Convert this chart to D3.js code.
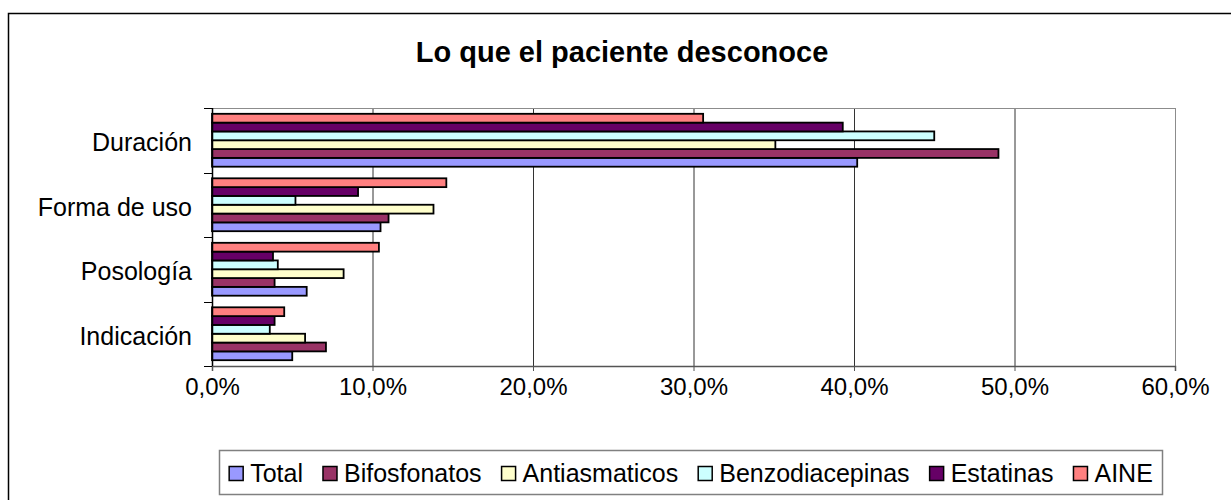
<!DOCTYPE html>
<html>
<head>
<meta charset="utf-8">
<script src="https://cdn.jsdelivr.net/npm/d3@7"></script>
<style>
  body { margin: 0; background: #fff; }
  svg { display: block; font-family: Arial, "Liberation Sans", sans-serif; }
</style>
</head>
<body>
<svg id="chart" width="1231" height="500"></svg>
<script>
// categories, top to bottom as drawn
const categories = ["Duración", "Forma de uso", "Posología", "Indicación"];
// series in legend order
const seriesNames = ["Total", "Bifosfonatos", "Antiasmaticos", "Benzodiacepinas", "Estatinas", "AINE"];
const seriesColors = ["#9999FF", "#993366", "#FFFFCC", "#CCFFFF", "#660066", "#FF8080"];
// percentages, one array per series, same order as categories
const total = [40.2, 10.5, 5.9, 5.0];
const bifosfonatos = [49.0, 11.0, 3.9, 7.1];
const antiasmaticos = [35.1, 13.8, 8.2, 5.8];
const benzodiacepinas = [45.0, 5.2, 4.1, 3.6];
const estatinas = [39.3, 9.1, 3.8, 3.9];
const aine = [30.6, 14.6, 10.4, 4.5];
const xTicks = [0, 10, 20, 30, 40, 50, 60];

const seriesValues = [total, bifosfonatos, antiasmaticos, benzodiacepinas, estatinas, aine];

const plot = { left: 212, right: 1175, top: 108, bottom: 366 };

const svg = d3.select("#chart");

// outer chart frame (only top/left visible in the picture)
svg.append("rect")
    .attr("x", 8.5).attr("y", 13.5)
    .attr("width", 1260).attr("height", 520)
    .attr("fill", "#fff")
    .attr("stroke", "#000")
    .attr("stroke-width", 1.5);

svg.append("text")
    .attr("x", 622).attr("y", 62)
    .attr("text-anchor", "middle")
    .style("font-size", "29px")
    .style("font-weight", "bold")
    .text("Lo que el paciente desconoce");

const x = d3.scaleLinear().domain([0, 60]).range([plot.left, plot.right]);

const y = d3.scaleBand()
    .domain(categories)
    .range([plot.top, plot.bottom])
    .paddingInner(0.18)
    .paddingOuter(0.09);

// AINE drawn on top of each group, Total at the bottom
const ySeries = d3.scaleBand()
    .domain(seriesNames.slice().reverse())
    .range([0, y.bandwidth()]);

// gridlines
svg.append("g")
    .selectAll("line")
    .data(xTicks.slice(1))
    .join("line")
    .attr("x1", d => x(d) + 0.5).attr("x2", d => x(d) + 0.5)
    .attr("y1", plot.top).attr("y2", plot.bottom)
    .attr("stroke", d => d === 60 ? "#8c8c8c" : "#333")
    .attr("stroke-width", 1);

// top border of plot area
svg.append("line")
    .attr("x1", plot.left).attr("x2", plot.right)
    .attr("y1", plot.top + 0.5).attr("y2", plot.top + 0.5)
    .attr("stroke", "#8c8c8c");

// bars
const rows = [];
seriesNames.forEach((s, i) => {
    categories.forEach((c, j) => {
        rows.push({ series: s, cat: c, value: seriesValues[i][j], color: seriesColors[i] });
    });
});

svg.append("g")
    .selectAll("rect")
    .data(rows)
    .join("rect")
    .attr("x", x(0))
    .attr("y", d => y(d.cat) + ySeries(d.series))
    .attr("width", d => x(d.value) - x(0))
    .attr("height", ySeries.bandwidth())
    .attr("fill", d => d.color)
    .attr("stroke", "#000")
    .attr("stroke-width", 1.8);

// value axis
const xAxis = svg.append("g")
    .attr("transform", `translate(0,${plot.bottom})`)
    .call(d3.axisBottom(x).tickValues(xTicks).tickSize(5).tickPadding(7)
        .tickFormat(d => d3.format(".1f")(d).replace(".", ",") + "%"));
xAxis.select(".domain").attr("stroke", "#555").attr("stroke-width", 1.5);
xAxis.selectAll(".tick line").attr("stroke", "#555");
xAxis.selectAll("text")
    .style("font-size", "24px")
    .style("font-family", "Arial, 'Liberation Sans', sans-serif")
    .attr("fill", "#000");

// category axis (ticks on the band edges)
const catEdges = categories.map(c => y(c) - y.step() * y.paddingInner() / 2).concat([plot.bottom]);
svg.append("g")
    .selectAll("line")
    .data(catEdges)
    .join("line")
    .attr("x1", plot.left - 8).attr("x2", plot.left)
    .attr("y1", d => Math.round(d) + 0.5).attr("y2", d => Math.round(d) + 0.5)
    .attr("stroke", "#000");
svg.append("line")
    .attr("x1", plot.left + 0.5).attr("x2", plot.left + 0.5)
    .attr("y1", plot.top).attr("y2", plot.bottom)
    .attr("stroke", "#000").attr("stroke-width", 1.5);

svg.append("g")
    .selectAll("text")
    .data(categories)
    .join("text")
    .attr("x", 192)
    .attr("y", d => y(d) + y.bandwidth() / 2 + 2)
    .attr("dy", "0.35em")
    .attr("text-anchor", "end")
    .style("font-size", "25px")
    .text(d => d);

// legend
const legend = { x: 219.5, y: 450.5, w: 943, h: 44 };
svg.append("rect")
    .attr("x", legend.x).attr("y", legend.y)
    .attr("width", legend.w).attr("height", legend.h)
    .attr("fill", "#fff")
    .attr("stroke", "#808080")
    .attr("stroke-width", 1.5);

const lg = svg.append("g");
const markerSize = 14;
const markerGap = 7;
const itemGap = 20;
let cursor = 0;
seriesNames.forEach((s, i) => {
    const item = lg.append("g").attr("transform", `translate(${cursor},0)`);
    item.append("rect")
        .attr("x", 0).attr("y", -markerSize / 2)
        .attr("width", markerSize).attr("height", markerSize)
        .attr("fill", seriesColors[i])
        .attr("stroke", "#000")
        .attr("stroke-width", 1.5);
    const t = item.append("text")
        .attr("x", markerSize + markerGap)
        .attr("dy", "0.35em")
        .style("font-size", "25px")
        .text(s);
    cursor += markerSize + markerGap + t.node().getComputedTextLength() + itemGap;
});
cursor -= itemGap;
lg.attr("transform", `translate(${legend.x + (legend.w - cursor) / 2},${legend.y + legend.h / 2 + 1})`);
</script>
</body>
</html>
